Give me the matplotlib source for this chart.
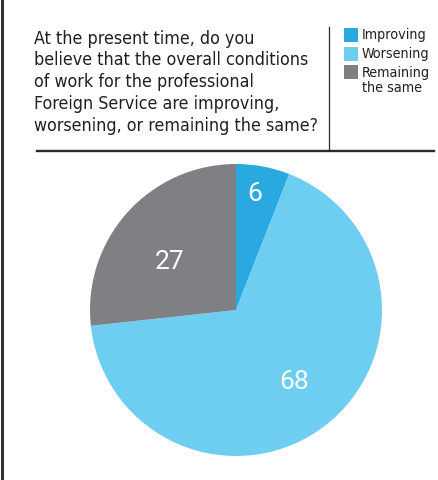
import numpy as np
import matplotlib
matplotlib.use("Agg")
import matplotlib.pyplot as plt
from matplotlib.patches import Rectangle
from matplotlib.lines import Line2D

categories = ["Improving", "Worsening", "Remaining\nthe same"]
values = [6, 68, 27]
colors = ["#2aa9e0", "#6dcef2", "#7f8084"]

question = ("At the present time, do you\n"
            "believe that the overall conditions\n"
            "of work for the professional\n"
            "Foreign Service are improving,\n"
            "worsening, or remaining the same?")

W, H = 438, 481
DPI = 100

fig = plt.figure(figsize=(W / DPI, H / DPI), dpi=DPI)
fig.patch.set_facecolor("white")


def fx(px):
    return px / W


def fy(py):
    return 1 - py / H


# frame rules
fig.add_artist(Line2D([fx(1.5), fx(1.5)], [0, 1], color="#333333", lw=2.2))
fig.add_artist(Line2D([fx(37), fx(434)], [fy(152.3), fy(152.3)], color="#2b2b2b", lw=1.7))
fig.add_artist(Line2D([fx(329), fx(329)], [fy(28), fy(150)], color="#2b2b2b", lw=0.9))

cond = dict(family="DejaVu Sans", fontstretch="condensed")

# question text
fig.text(fx(34), fy(29.5), question, ha="left", va="top", fontsize=12.8,
         color="#231f20", linespacing=1.27, **cond)

# legend
row_y = [29, 47.5, 66]
for i, (lab, col) in enumerate(zip(categories, colors)):
    fig.add_artist(Rectangle((fx(344), fy(row_y[i] + 14)), fx(14), 14 / H,
                             facecolor=col, edgecolor="none"))
    fig.text(fx(362), fy(row_y[i] - 0.5), lab, ha="left", va="top", fontsize=10.3,
             color="#231f20", linespacing=1.12, **cond)

# pie
cx, cy, r = 236, 311, 146
ax = fig.add_axes([fx(cx - r), fy(cy + r), 2 * r / W, 2 * r / H])
wedges, _ = ax.pie(values, colors=colors, startangle=90, counterclock=False,
                   radius=1, wedgeprops=dict(linewidth=0))
ax.set_xlim(-1, 1)
ax.set_ylim(-1, 1)
ax.set_aspect("equal")
ax.axis("off")

# value labels: baseline anchors in units of the pie radius
label_anchor = [(0.130, 0.753), (0.401, -0.534), (-0.452, 0.288)]
for v, (lx, ly) in zip(values, label_anchor):
    ax.text(lx, ly, str(v), ha="center", va="baseline",
            fontsize=19, color="white", family="Roboto")

fig.savefig("out.png", dpi=DPI, facecolor="white")
